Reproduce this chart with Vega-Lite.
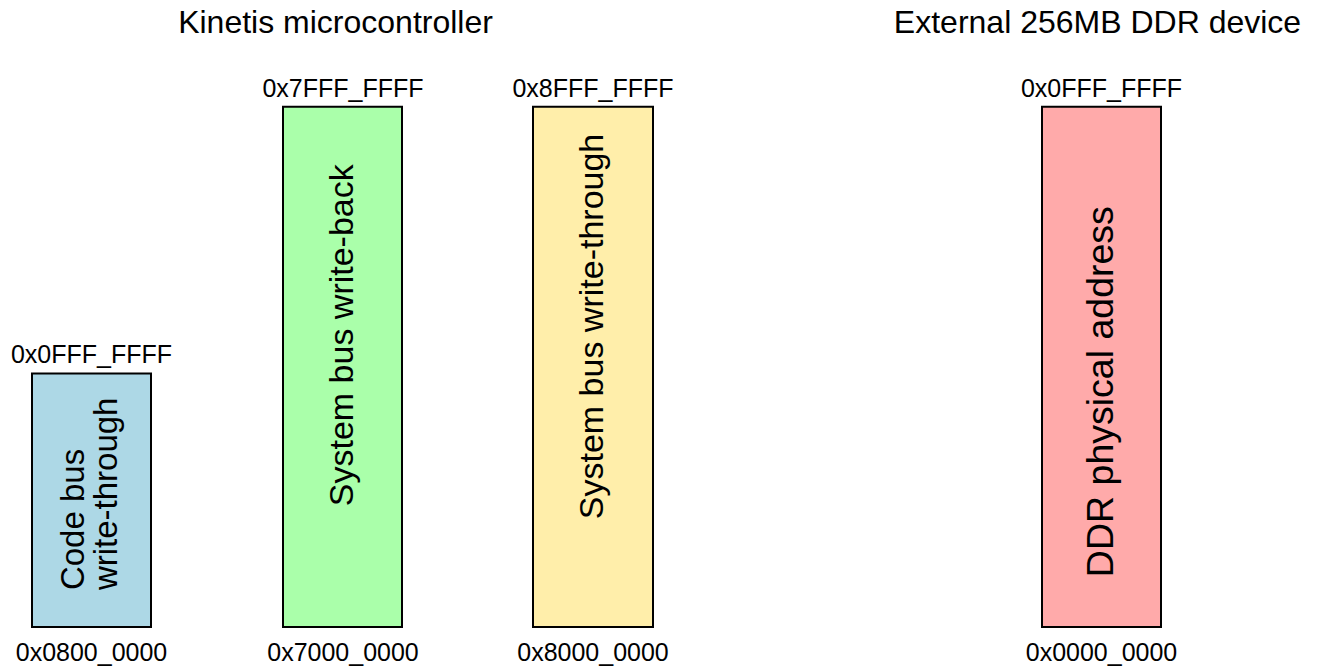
{
  "$schema": "https://vega.github.io/schema/vega-lite/v6.json",
  "width": 1325,
  "height": 666,
  "autosize": {"type": "fit", "contains": "padding"},
  "padding": 0,
  "background": "white",
  "config": {"view": {"stroke": null}, "text": {"font": "Liberation Sans", "color": "black"}},
  "datasets": {
    "boxes": [
      {"name": "code", "left": 32, "right": 151, "center": 91.5, "labelX": 73.5, "top": 374, "bottom": 628, "labelStart": 591, "high": "0x0FFF_FFFF", "low": "0x0800_0000", "label": "Code bus\nwrite-through"},
      {"name": "wb", "left": 283, "right": 402, "center": 343, "labelX": 343, "top": 107, "bottom": 628, "labelStart": 507, "high": "0x7FFF_FFFF", "low": "0x7000_0000", "label": "System bus write-back"},
      {"name": "wt", "left": 533, "right": 653, "center": 593, "labelX": 593, "top": 107, "bottom": 628, "labelStart": 520, "high": "0x8FFF_FFFF", "low": "0x8000_0000", "label": "System bus write-through"},
      {"name": "ddr", "left": 1042, "right": 1161, "center": 1101.5, "labelX": 1101.5, "top": 107, "bottom": 628, "labelStart": 578, "high": "0x0FFF_FFFF", "low": "0x0000_0000", "label": "DDR physical address"}
    ],
    "titles": [
      {"title": "Kinetis microcontroller", "cx": 335.5, "base": 33},
      {"title": "External 256MB DDR device", "cx": 1097.5, "base": 33}
    ]
  },
  "layer": [
    {
      "data": {"name": "boxes"},
      "mark": {"type": "rect", "stroke": "black", "strokeWidth": 2},
      "encoding": {
        "x": {"field": "left", "type": "quantitative", "scale": {"domain": [0, 1325], "nice": false, "zero": false}, "axis": null},
        "x2": {"field": "right"},
        "y": {"field": "top", "type": "quantitative", "scale": {"domain": [0, 666], "nice": false, "zero": false, "reverse": true}, "axis": null},
        "y2": {"field": "bottom"},
        "color": {"field": "name", "type": "nominal", "scale": {"domain": ["code", "wb", "wt", "ddr"], "range": ["#add8e6", "#aaffaa", "#ffeeaa", "#ffaaaa"]}, "legend": null}
      }
    },
    {
      "data": {"name": "boxes"},
      "mark": {"type": "text", "fontSize": 25, "align": "center", "baseline": "alphabetic", "dy": -10},
      "encoding": {
        "x": {"field": "center", "type": "quantitative"},
        "y": {"field": "top", "type": "quantitative"},
        "text": {"field": "high"}
      }
    },
    {
      "data": {"name": "boxes"},
      "mark": {"type": "text", "fontSize": 25, "align": "center", "baseline": "alphabetic", "dy": 34},
      "encoding": {
        "x": {"field": "center", "type": "quantitative"},
        "y": {"field": "bottom", "type": "quantitative"},
        "text": {"field": "low"}
      }
    },
    {
      "data": {"name": "boxes"},
      "mark": {"type": "text", "angle": 270, "align": "left", "baseline": "middle", "lineBreak": "\n", "lineHeight": 33},
      "encoding": {
        "x": {"field": "labelX", "type": "quantitative"},
        "y": {"field": "labelStart", "type": "quantitative"},
        "text": {"field": "label"},
        "size": {"field": "name", "type": "nominal", "scale": {"type": "ordinal", "domain": ["code", "wb", "wt", "ddr"], "range": [33, 34, 34, 37.5]}, "legend": null}
      }
    },
    {
      "data": {"name": "titles"},
      "mark": {"type": "text", "fontSize": 32, "align": "center", "baseline": "alphabetic"},
      "encoding": {
        "x": {"field": "cx", "type": "quantitative"},
        "y": {"field": "base", "type": "quantitative"},
        "text": {"field": "title"}
      }
    }
  ]
}
